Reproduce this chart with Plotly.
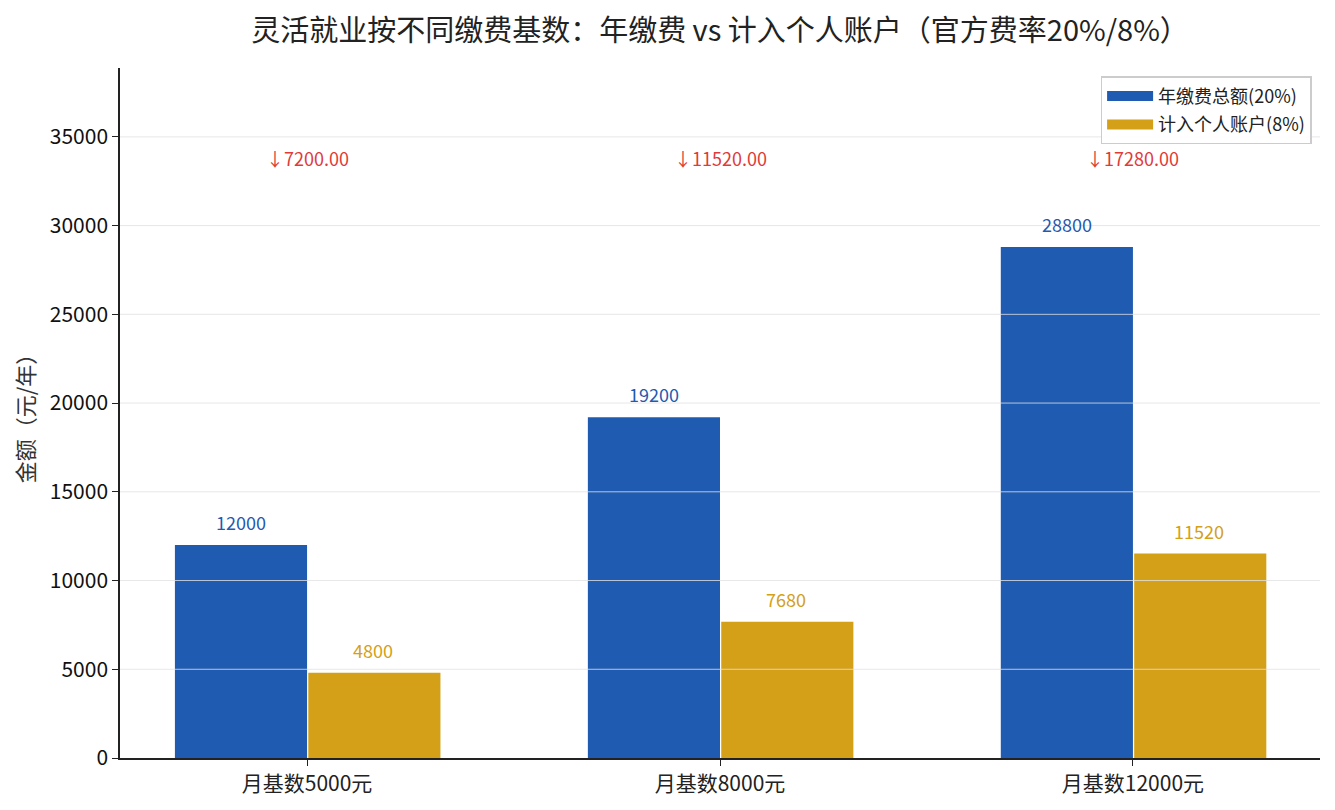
import plotly.graph_objects as go

categories = ["月基数5000元", "月基数8000元", "月基数12000元"]
total_pay = [12000, 19200, 28800]
personal_acct = [4800, 7680, 11520]
diff = [7200.00, 11520.00, 17280.00]
y_ticks = [0, 5000, 10000, 15000, 20000, 25000, 30000, 35000]
series_names = ["年缴费总额(20%)", "计入个人账户(8%)"]

BLUE = "#1f5bb0"
GOLD = "#d4a017"
RED = "#e03a3a"
FONT = "Noto Sans CJK SC"
bar_w = 0.32
ymax = max(total_pay) * 1.35

fig = go.Figure()
fig.add_trace(go.Bar(x=categories, y=total_pay, name=series_names[0], showlegend=False,
                     marker=dict(color=BLUE, line=dict(width=0)), width=bar_w, offset=-bar_w))
fig.add_trace(go.Bar(x=categories, y=personal_acct, name=series_names[1], showlegend=False,
                     marker=dict(color=GOLD, line=dict(width=0)), width=bar_w, offset=0.003))
# legend proxies (wide rectangular patches)
for k, (nm, col) in enumerate(zip(series_names, [BLUE, GOLD])):
    fig.add_trace(go.Scatter(x=[None], y=[None], mode="lines", name=nm,
                             legendgroup="g%d" % k,
                             line=dict(color=col, width=12)))

annotations = []
for i, c in enumerate(categories):
    annotations.append(dict(x=i - bar_w / 2, y=total_pay[i], xref="x", yref="y",
                            text=str(total_pay[i]), showarrow=False, yanchor="bottom",
                            yshift=8, font=dict(family=FONT, size=18, color=BLUE)))
    annotations.append(dict(x=i + bar_w / 2, y=personal_acct[i], xref="x", yref="y",
                            text=str(personal_acct[i]), showarrow=False, yanchor="bottom",
                            yshift=8, font=dict(family=FONT, size=18, color=GOLD)))
    annotations.append(dict(x=i, y=max(total_pay) * 1.174, xref="x", yref="y",
                            text="↓%.2f" % diff[i], showarrow=False, yanchor="middle",
                            font=dict(family=FONT, size=18, color=RED)))

shapes = []
for t in y_ticks[1:]:
    shapes.append(dict(type="line", xref="paper", yref="y", x0=0, x1=1, y0=t, y1=t,
                       line=dict(color="rgba(225,225,225,0.8)", width=1), layer="above"))

fig.update_layout(
    width=1335, height=810,
    margin=dict(l=112, r=23, t=60, b=60),
    paper_bgcolor="white", plot_bgcolor="white",
    font=dict(family=FONT, size=18, color="#222"),
    title=dict(text="灵活就业按不同缴费基数：年缴费 vs 计入个人账户（官方费率20%/8%）",
               x=0.5, xref="paper", xanchor="center", y=1 - 22.5 / 810, yanchor="middle",
               font=dict(family=FONT, size=29, color="#222")),
    barmode="overlay",
    showlegend=True,
    legend=dict(x=0.993, xanchor="right", y=0.988, yanchor="top",
                bgcolor="rgba(255,255,255,0.9)", bordercolor="#cccccc", borderwidth=1.5,
                font=dict(family=FONT, size=18, color="#222"), tracegroupgap=2,
                itemwidth=46),
    annotations=annotations,
    shapes=shapes,
    xaxis=dict(type="category", range=[-0.453, 2.453], showline=True, linecolor="#222",
               linewidth=1.5, ticks="outside", ticklen=6, tickcolor="#222",
               showgrid=False, tickfont=dict(family=FONT, size=21, color="#222")),
    yaxis=dict(range=[0, ymax], tickvals=y_ticks, tickformat="d", showline=True,
               linecolor="#222", linewidth=1.5, ticks="outside", ticklen=6, tickcolor="#222",
               showgrid=False, zeroline=False,
               tickfont=dict(family=FONT, size=21, color="#111"),
               title=dict(text="金额（元/年）", font=dict(family=FONT, size=22, color="#333"),
                          standoff=12)),
)

fig.write_html("out.html")
